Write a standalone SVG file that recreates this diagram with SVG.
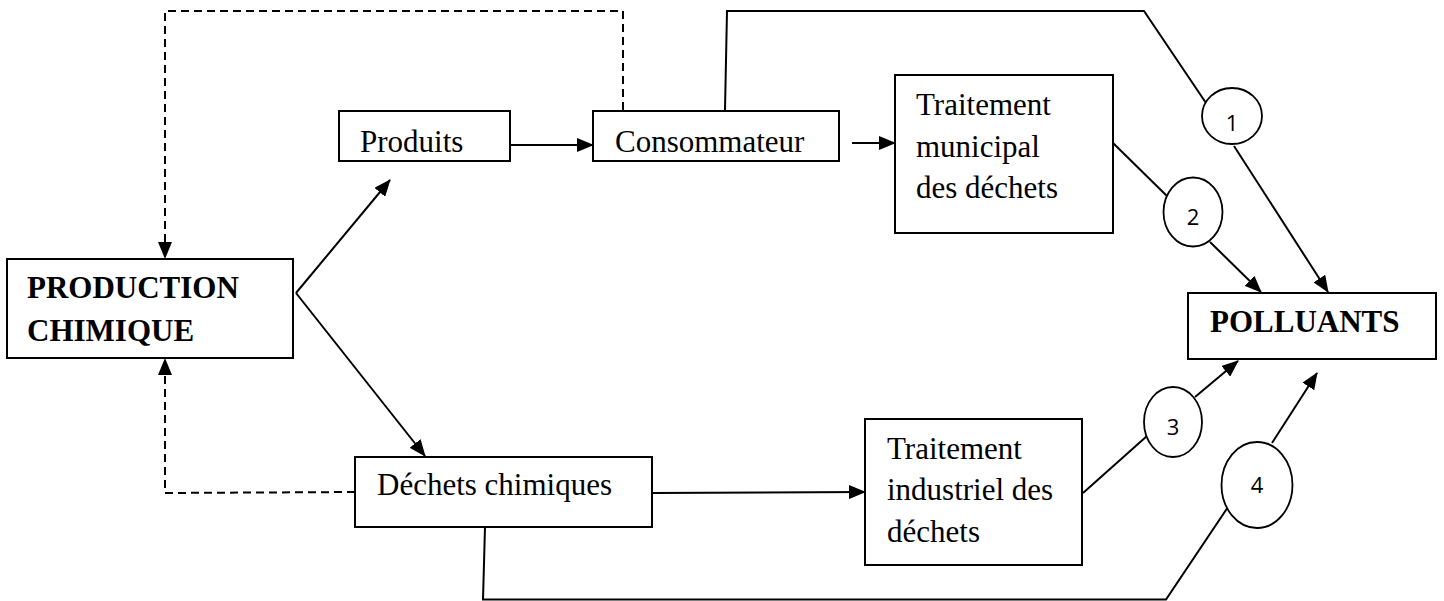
<svg xmlns="http://www.w3.org/2000/svg" width="1444" height="601" viewBox="0 0 1444 601">
<style>
.box{fill:#fff;stroke:#000;stroke-width:2}
.t{font-family:"Liberation Serif","Times New Roman",serif;font-size:31px;fill:#000}
.b{font-weight:bold}
.c{fill:#fff;stroke:#000;stroke-width:1.8}
.n{font-family:"Open Sans","Liberation Sans",sans-serif;font-size:22px;fill:#000;text-anchor:middle}
.l{fill:none;stroke:#000;stroke-width:2}
.d{fill:none;stroke:#000;stroke-width:2;stroke-dasharray:8 5}
</style>
<defs>
<marker id="ah" markerUnits="userSpaceOnUse" markerWidth="17" markerHeight="14" viewBox="0 0 17 14" refX="16" refY="7" orient="auto">
<path d="M0,0 L17,7 L0,14 Z" fill="#000"/>
</marker>
</defs>
<rect width="1444" height="601" fill="#fff"/>
<g id="connectors">
<polyline class="d" points="623,110 623,11 165,11 165,258" marker-end="url(#ah)"/>
<polyline class="d" points="355,492 165,493 165,359" marker-end="url(#ah)"/>
<line class="l" x1="296" y1="293" x2="390" y2="180" marker-end="url(#ah)"/>
<line class="l" x1="296" y1="293" x2="425" y2="456" marker-end="url(#ah)"/>
<line class="l" x1="511" y1="145" x2="593" y2="145" marker-end="url(#ah)"/>
<line class="l" x1="852" y1="143" x2="895" y2="143" marker-end="url(#ah)"/>
<line class="l" x1="652" y1="493" x2="865" y2="492" marker-end="url(#ah)"/>
<polyline class="l" points="725,110 727,11 1144,11 1206,103"/>
<line class="l" x1="1234" y1="146" x2="1328" y2="292" marker-end="url(#ah)"/>
<line class="l" x1="1113" y1="143" x2="1168" y2="197"/>
<line class="l" x1="1210" y1="242" x2="1261" y2="292" marker-end="url(#ah)"/>
<line class="l" x1="1083" y1="493" x2="1147" y2="436"/>
<line class="l" x1="1195" y1="397" x2="1238" y2="361" marker-end="url(#ah)"/>
<polyline class="l" points="485,527 483,599.5 1166,599.5 1228,507"/>
<line class="l" x1="1272" y1="443" x2="1317" y2="373" marker-end="url(#ah)"/>
</g>
<g id="production">
<rect class="box" x="7" y="259" width="286" height="99"/>
<text class="t b" x="27" y="298">PRODUCTION</text>
<text class="t b" x="27" y="341">CHIMIQUE</text>
</g>
<g id="produits">
<rect class="box" x="339" y="111" width="171" height="50"/>
<text class="t" x="360" y="152">Produits</text>
</g>
<g id="consommateur">
<rect class="box" x="593" y="111" width="246" height="50"/>
<text class="t" x="615" y="152">Consommateur</text>
</g>
<g id="traitement-municipal">
<rect class="box" x="895" y="75" width="218" height="158"/>
<text class="t" x="916" y="115">Traitement</text>
<text class="t" x="916" y="157">municipal</text>
<text class="t" x="916" y="198">des déchets</text>
</g>
<g id="polluants">
<rect class="box" x="1188" y="293" width="248" height="66"/>
<text class="t b" x="1210" y="332">POLLUANTS</text>
</g>
<g id="dechets-chimiques">
<rect class="box" x="355" y="457" width="297" height="70"/>
<text class="t" x="377" y="495">Déchets chimiques</text>
</g>
<g id="traitement-industriel">
<rect class="box" x="865" y="419" width="217" height="146"/>
<text class="t" x="887" y="459">Traitement</text>
<text class="t" x="887" y="500">industriel des</text>
<text class="t" x="887" y="542">déchets</text>
</g>
<g id="c1"><ellipse class="c" cx="1232" cy="116" rx="30" ry="28"/><text class="n" x="1232" y="131">1</text></g>
<g id="c2"><ellipse class="c" cx="1193" cy="212" rx="29.5" ry="34.5"/><text class="n" x="1193" y="225">2</text></g>
<g id="c3"><ellipse class="c" cx="1173" cy="422" rx="29" ry="35"/><text class="n" x="1173" y="435">3</text></g>
<g id="c4"><ellipse class="c" cx="1257" cy="485" rx="35.5" ry="43"/><text class="n" x="1257" y="493">4</text></g>
</svg>
